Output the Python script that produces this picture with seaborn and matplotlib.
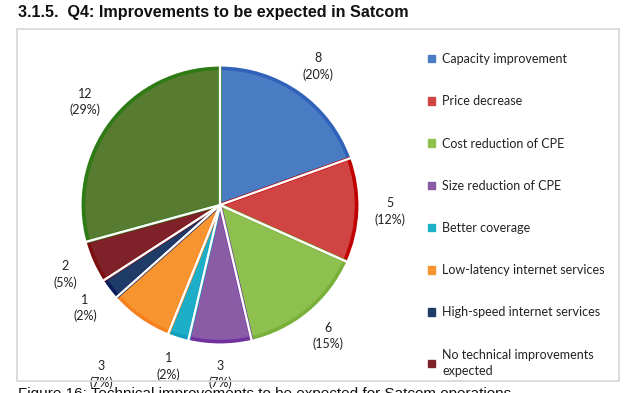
import matplotlib
matplotlib.use("Agg")
import matplotlib.pyplot as plt
import seaborn as sns
import numpy as np
from matplotlib.patches import Rectangle, Patch

sns.set_theme(style="white")
plt.rcParams['font.family'] = ['Lato', 'DejaVu Sans']

title = "3.1.5.  Q4: Improvements to be expected in Satcom"
caption = "Figure 16: Technical improvements to be expected for Satcom operations"
categories = ["Capacity improvement", "Price decrease", "Cost reduction of CPE",
              "Size reduction of CPE", "Better coverage", "Low-latency internet services",
              "High-speed internet services", "No technical improvements\nexpected", "Other"]
values = [8, 5, 6, 3, 1, 3, 1, 2, 12]
fill_colors = ["#4A7CC4", "#D04444", "#8DC04F", "#8A5CA6", "#1EAFC8", "#F7942F",
               "#1F3B68", "#7E2128", "#567B31"]
edge_colors = ["#2F62B8", "#C00000", "#78B03A", "#7030A0", "#0EA0BC", "#F58220",
               "#0C1E5A", "#7A0F10", "#2E7A14"]

W, H = 634, 393
fig = plt.figure(figsize=(W / 100, H / 100), dpi=100)

# frame
fig.add_artist(Rectangle((17 / W, 1 - 381 / H), (619 - 17) / W, (381 - 29) / H,
                         transform=fig.transFigure, fill=False, edgecolor="#D6D6D6", lw=1.2))

fig.text(18 / W, 1 - 13 / H, title, fontsize=11.6, fontweight="bold",
         family=["Liberation Sans Narrow", "Liberation Sans", "DejaVu Sans"],
         va="center", ha="left", color="#111111")
fig.text(18 / W, 1 - 387 / H, caption, fontsize=11, va="top", ha="left",
         family=["Liberation Sans"], color="#111111")

R = 138.0
cx, cy = 220, 205
half_w, half_h = 200, 178
ax = fig.add_axes([(cx - half_w) / W, 1 - (cy + half_h) / H, 2 * half_w / W, 2 * half_h / H])

total = sum(values)
wedges, texts = ax.pie(values, startangle=90, counterclock=False, colors=fill_colors,
                       radius=0.99,
                       wedgeprops=dict(linewidth=2.6),
                       labels=[f"{v}\n({v / total * 100:.0f}%)" for v in values],
                       labeldistance=1.23,
                       textprops=dict(fontsize=9, color="#222222", linespacing=1.4))
for w, ec in zip(wedges, edge_colors):
    w.set_edgecolor(ec)
    w.set_joinstyle("miter")
# white separators between slices
for w in wedges:
    a = np.deg2rad(w.theta1)
    ax.plot([0, 1.02 * np.cos(a)], [0, 1.02 * np.sin(a)], color="white", lw=1.7,
            solid_capstyle="butt", zorder=5)
for i, t in enumerate(texts):
    t.set_ha("center")
    t.set_va("center")
    w = wedges[i]
    ang = np.deg2rad((w.theta1 + w.theta2) / 2)
    d = 1.5 if i == 5 else 1.23
    t.set_position((d * np.cos(ang), d * np.sin(ang)))
ax.set_xlim(-half_w / R, half_w / R)
ax.set_ylim(-half_h / R, half_h / R)
ax.set_aspect("equal")
ax.axis("off")

handles = [Patch(facecolor=c, edgecolor=c) for c in fill_colors[:8]]
leg = fig.legend(handles, categories[:8], loc="upper left",
                 bbox_to_anchor=(428 / W, 1 - 53 / H), frameon=False,
                 fontsize=9, handlelength=0.55, handleheight=0.55, handletextpad=0.6,
                 labelspacing=2.42, borderpad=0, borderaxespad=0)
for t in leg.get_texts():
    t.set_color("#222222")
    t.set_linespacing(1.45)

fig.savefig("out.png", dpi=100)
